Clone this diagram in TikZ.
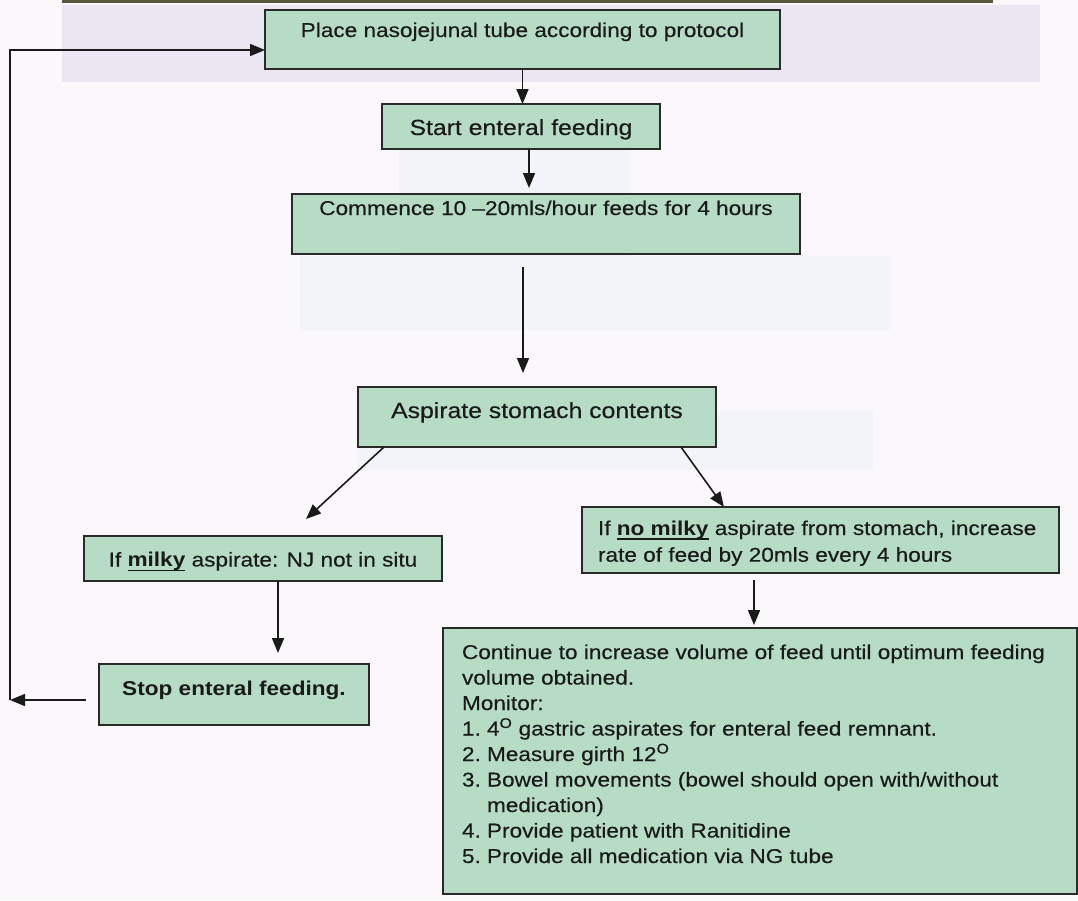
\documentclass[tikz,border=0pt]{standalone}
\usepackage{fontspec}
\setmainfont{Liberation Sans}[FakeStretch=1.13, UprightFeatures={FakeBold=0.35}]
\usetikzlibrary{arrows.meta}

\definecolor{boxfill}{HTML}{B6DCC6}
\definecolor{boxline}{HTML}{2A2A2A}
\definecolor{inkc}{HTML}{1A1A1A}
\definecolor{paper}{HTML}{FBF8FB}
\definecolor{bandc}{HTML}{ECE6F3}
\definecolor{ghostc}{HTML}{F3F4FA}
\definecolor{edgec}{HTML}{5B5840}

% bold, underlined keyword with the rule crossing the descenders
\newlength\ulwd
\newcommand\ulbf[1]{\settowidth\ulwd{\bfseries #1}\rlap{\rule[-4.5pt]{\ulwd}{1.5pt}}\textbf{#1}}
% hanging number of a list line
\newcommand\itm[1]{\makebox[25pt][l]{#1}}
\newcommand\bigtxt{\fontsize{21.9}{26}\selectfont}

\begin{document}
\begin{tikzpicture}[x=1pt,y=-1pt,
  flowbox/.style={draw=boxline, line width=1.4pt, fill=boxfill, inner sep=0pt,
    outer sep=0pt, text=inkc, font=\fontsize{20}{25.5}\selectfont},
  conn/.style={draw=inkc, line width=1.6pt, line join=miter,
    -{Triangle[length=15pt,width=12pt]}}]

% page and faint panels
\useasboundingbox (0,0) rectangle (1078,900);
\fill[paper] (0,0) rectangle (1078,900);
\fill[edgec] (62,0) rectangle (993,2.5);
\fill[bandc] (62,5) rectangle (1040,82);
\fill[ghostc] (399,150) rectangle (630,256);
\fill[ghostc] (300,256) rectangle (890,330);
\fill[ghostc] (357,410) rectangle (873,470);

% steps
\node[flowbox] (place) at (522.5,39.5)
  {\parbox[c][59pt][t]{515pt}{\centering\rule{0pt}{27pt}Place nasojejunal tube according to protocol}};
\node[flowbox] (start) at (521,126.5)
  {\parbox[c][45pt][t]{278pt}{\centering\bigtxt\rule{0pt}{31pt}Start enteral feeding}};
\node[flowbox] (commence) at (546,224)
  {\parbox[c][60pt][t]{508pt}{\centering\rule{0pt}{21pt}Commence 10 –20mls/hour feeds for 4 hours}};
\node[flowbox] (aspirate) at (537,417)
  {\parbox[c][60pt][t]{358pt}{\centering\bigtxt\rule{0pt}{31pt}Aspirate stomach contents}};
\node[flowbox] (milky) at (263,558.5)
  {\parbox[c][45pt][t]{358pt}{\centering\rule{0pt}{30.5pt}If \ulbf{milky} aspirate: NJ not in situ}};
\node[flowbox] (stop) at (234,694.5)
  {\parbox[c][61pt][t]{270pt}{\centering\bfseries\rule{0pt}{31pt}Stop enteral feeding.}};
\node[flowbox] (nomilky) at (820.5,540)
  {\parbox[c][66pt][t]{477pt}{\raggedright\leftskip=16pt\fontsize{20}{26.7}\selectfont
   \rule{0pt}{28pt}If \ulbf{no milky} aspirate from stomach, increase\\
   rate of feed by 20mls every 4 hours}};
\node[flowbox] (continue) at (760,761)
  {\parbox[c][266pt][t]{634pt}{\raggedright\leftskip=19pt
   \rule{0pt}{31pt}Continue to increase volume of feed until optimum feeding\\
   volume obtained.\\
   Monitor:\\
   \itm{1.}4\textsuperscript{O} gastric aspirates for enteral feed remnant.\\
   \itm{2.}Measure girth 12\textsuperscript{O}\\
   \itm{3.}Bowel movements (bowel should open with/without\\
   \itm{}medication)\\
   \itm{4.}Provide patient with Ranitidine\\
   \itm{5.}Provide all medication via NG tube}};

% connector anchors
\coordinate (s2) at ([xshift=8pt]start.south);
\coordinate (s3) at ([xshift=-23pt]commence.south);
\coordinate (s5) at ([xshift=15pt]milky.south);
\coordinate (s7) at ([xshift=172pt]nomilky.south west);
\coordinate (sw) at ([yshift=-5.5pt]stop.west);
\coordinate (pw) at ([yshift=-10.5pt]place.west);
\coordinate (ret) at (10,0);

% connectors
\draw[conn] (place.south) -- (place.south |- start.north);
\draw[conn, shorten >=6pt] (s2) -- (s2 |- commence.north);
\draw[conn, shorten <=13pt, shorten >=14pt] (s3) -- (s3 |- aspirate.north);
\draw[conn] ([xshift=26pt]aspirate.south west) -- ([xshift=43pt,yshift=17pt]milky.north);
\draw[conn] ([xshift=-35pt]aspirate.south east) -- ([xshift=142pt]nomilky.north west);
\draw[conn, shorten >=11pt] (s5) -- (s5 |- stop.north);
\draw[conn, shorten <=7pt, shorten >=3pt] (s7) -- (s7 |- continue.north);
\draw[conn, shorten <=13pt] (sw) -- (sw -| ret);
\draw[conn] (sw -| ret) -- (pw -| ret) -- (pw);
\end{tikzpicture}
\end{document}
